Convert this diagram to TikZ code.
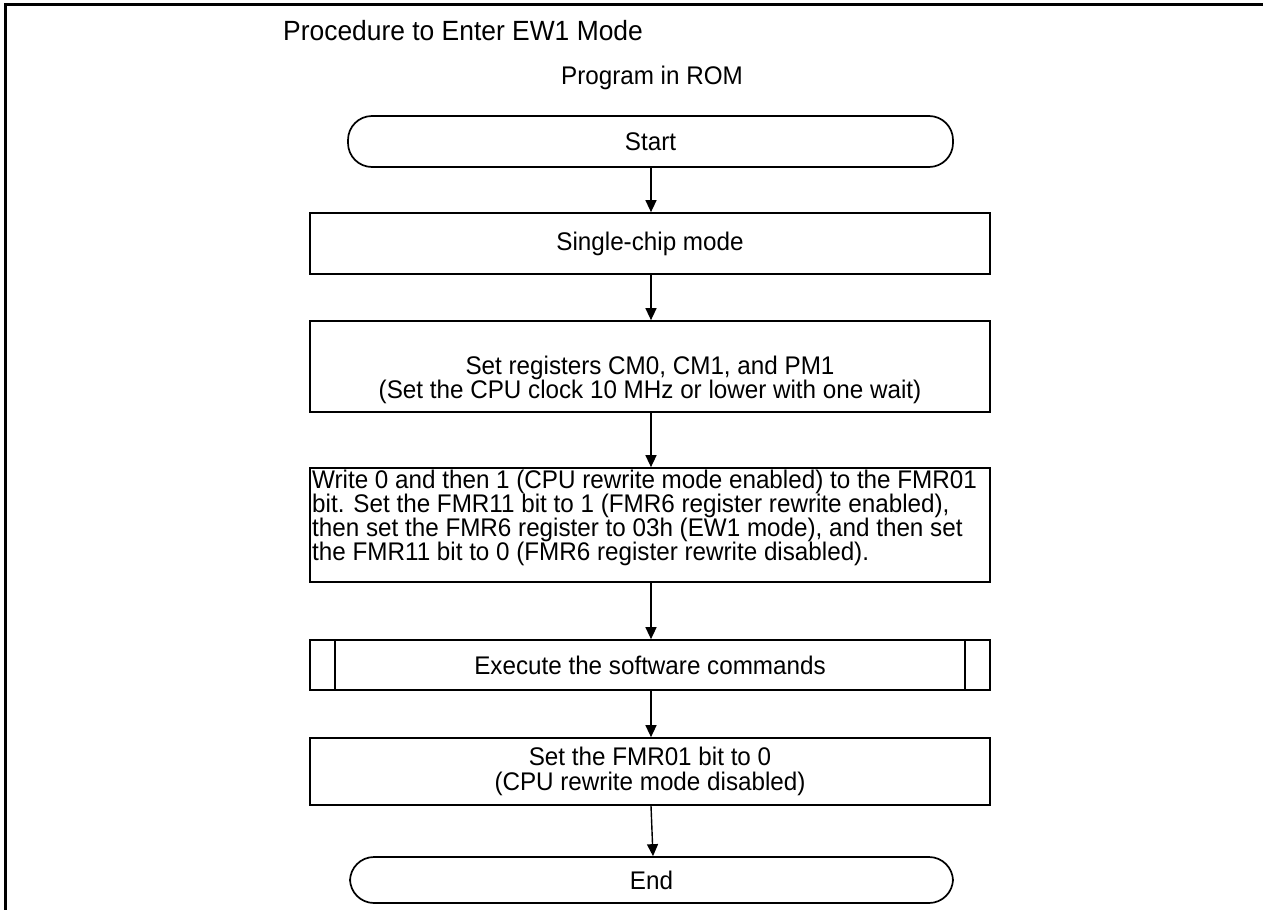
\documentclass[tikz,border=0pt]{standalone}
\usepackage{fontspec}
\setmainfont{Liberation Sans}[FakeStretch=0.95]
\usetikzlibrary{arrows.meta}
\tikzset{
  txt/.style={font=\fontsize{25.5}{24.5}\selectfont, inner sep=0pt, align=center},
  proc/.style={draw, line width=1.7pt, minimum width=680pt, inner sep=0pt, font=\fontsize{25.5}{24.5}\selectfont, align=center},
  term/.style={draw, line width=1.7pt, rounded corners=24pt, inner sep=0pt, font=\fontsize{25.5}{24.5}\selectfont},
  flow/.style={line width=1.4pt, -{Triangle[length=12pt,width=11pt]}}
}
\begin{document}
\begin{tikzpicture}[x=1pt,y=-1pt]
\useasboundingbox (0,0) rectangle (1263,910);
\draw[line width=3pt] (1263,4.5) -- (5.5,4.5) -- (5.5,910);
\node[txt, font=\fontsize{27.8}{30}\selectfont, anchor=base west] (title) at (283,40) {Procedure to Enter EW1 Mode};
\node[txt] (rom) at (652,78) {Program in ROM};
\node[term, minimum width=605pt, minimum height=51pt] (start) at (650.5,141.5) {Start};
\node[proc, minimum height=61pt] (single) at (650,243.5) {Single-chip mode};
\node[proc, minimum height=91pt] (setreg) at (650,366.5) {};
\node[txt] (setregtxt) at (650,380) {Set registers CM0, CM1, and PM1\\(Set the CPU clock 10 MHz or lower with one wait)};
\node[proc, minimum height=114pt] (write) at (650,525) {};
\node[txt, font=\fontsize{25.5}{24}\selectfont, align=left, anchor=north west] (writetxt) at (312,470) {Write 0 and then 1 (CPU rewrite mode enabled) to the FMR01\\bit. Set the FMR11 bit to 1 (FMR6 register rewrite enabled),\\then set the FMR6 register to 03h (EW1 mode), and then set\\the FMR11 bit to 0 (FMR6 register rewrite disabled).};
\node[proc, minimum height=50pt] (exec) at (650,665) {Execute the software commands};
\draw[line width=1.7pt] ([xshift=26pt]exec.north west) -- ([xshift=26pt]exec.south west);
\draw[line width=1.7pt] ([xshift=-26pt]exec.north east) -- ([xshift=-26pt]exec.south east);
\node[proc, minimum height=67pt] (fmr) at (650,771.5) {Set the FMR01 bit to 0\\(CPU rewrite mode disabled)};
\node[term, minimum width=603pt, minimum height=46pt] (end) at (651.5,880) {End};
\draw[flow] (start.south -| 651,0) -- (single.north -| 651,0);
\draw[flow] (single.south -| 651,0) -- (setreg.north -| 651,0);
\draw[flow] (setreg.south -| 651,0) -- (write.north -| 651,0);
\draw[flow] (write.south -| 651,0) -- (exec.north -| 651,0);
\draw[flow] (exec.south -| 651,0) -- (fmr.north -| 651,0);
\draw[flow] (fmr.south -| 651,0) -- (end.north -| 653,0);
\end{tikzpicture}
\end{document}
